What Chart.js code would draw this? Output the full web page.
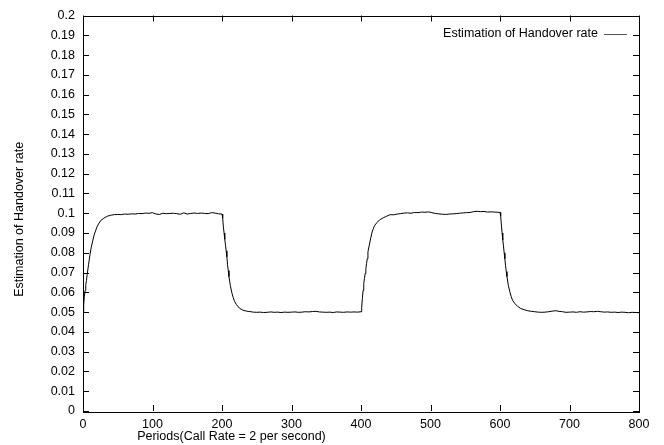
<!DOCTYPE html>
<html>
<head>
<meta charset="utf-8">
<script src="https://cdn.jsdelivr.net/npm/chart.js@4/dist/chart.umd.min.js"></script>
<style>
  html, body { margin: 0; padding: 0; background: #fff; }
  #wrap { width: 664px; height: 445px; }
</style>
</head>
<body>
<div id="wrap"><canvas id="c" width="664" height="445"></canvas></div>
<script>
// Handover-rate estimate per period (call rate = 2 per second)
const periods = [
  0, 1, 2, 3, 4, 5, 6, 8, 10, 12, 14, 16, 18, 20, 23, 26, 30, 35, 40, 45,
  50, 55, 60, 65, 70, 75, 80, 85, 90, 95, 100, 105, 110, 115, 120, 125, 130, 135, 140, 145,
  150, 155, 160, 165, 170, 175, 180, 185, 190, 195, 200,
  201, 202, 203, 204, 205, 206, 207, 208, 209, 210, 212, 214, 216, 218, 221, 225, 230, 235, 240,
  245, 250, 255, 260, 265, 270, 275, 280, 285, 290, 295, 300, 305, 310, 315, 320, 325, 330, 335, 340,
  345, 350, 355, 360, 365, 370, 375, 380, 385, 390, 395, 400,
  401, 402, 403, 404, 405, 406, 407, 408, 409, 410, 412, 414, 416, 418, 420, 423, 427, 432, 437, 442,
  447, 452, 457, 462, 467, 472, 477, 482, 487, 492, 497, 502, 507, 512, 517, 522, 527, 532, 537, 542,
  547, 552, 557, 562, 567, 572, 577, 582, 587, 592, 597, 600,
  601, 602, 603, 604, 605, 606, 607, 608, 609, 610, 612, 614, 616, 618, 621, 625, 630, 635, 640, 645,
  650, 655, 660, 665, 670, 675, 680, 685, 690, 695, 700, 705, 710, 715, 720, 725, 730, 735, 740, 745,
  750, 755, 760, 765, 770, 775, 780, 785, 790, 795, 800
];
const handoverRate = [
  0.0500, 0.0540, 0.0580, 0.0610, 0.0640, 0.0660, 0.0690, 0.0740, 0.0790, 0.0830, 0.0860, 0.0890, 0.0910, 0.0930, 0.0950, 0.0965, 0.0975, 0.0985, 0.0990, 0.0993,
  0.0994, 0.0993, 0.0996, 0.0995, 0.0997, 0.0996, 0.0999, 0.0998, 0.1001, 0.1000, 0.1003, 0.0996, 0.0994, 0.1000, 0.0998, 0.0999, 0.1000, 0.0998, 0.0995, 0.1002,
  0.0996, 0.0999, 0.1001, 0.0999, 0.1001, 0.0999, 0.0998, 0.1003, 0.1001, 0.0997, 0.0996,
  0.0975, 0.0930, 0.0900, 0.0868, 0.0840, 0.0810, 0.0780, 0.0740, 0.0710, 0.0680, 0.0635, 0.0600, 0.0575, 0.0555, 0.0537, 0.0520, 0.0510, 0.0505, 0.0503,
  0.0500, 0.0499, 0.0500, 0.0498, 0.0499, 0.0501, 0.0499, 0.0500, 0.0498, 0.0500, 0.0499, 0.0500, 0.0501, 0.0499, 0.0500, 0.0502, 0.0501, 0.0503, 0.0504, 0.0501,
  0.0500, 0.0499, 0.0500, 0.0498, 0.0501, 0.0500, 0.0499, 0.0501, 0.0500, 0.0501, 0.0500, 0.0502,
  0.0525, 0.0570, 0.0610, 0.0645, 0.0670, 0.0695, 0.0720, 0.0745, 0.0770, 0.0805, 0.0840, 0.0875, 0.0905, 0.0925, 0.0940, 0.0953, 0.0967, 0.0977, 0.0985, 0.0993,
  0.0992, 0.0996, 0.0998, 0.1001, 0.1002, 0.1000, 0.1004, 0.1003, 0.1006, 0.1005, 0.1007, 0.1003, 0.0999, 0.0997, 0.0995, 0.0994, 0.0996, 0.0997, 0.0998, 0.1000,
  0.1002, 0.1003, 0.1004, 0.1008, 0.1010, 0.1008, 0.1009, 0.1006, 0.1007, 0.1006, 0.1005, 0.1004,
  0.0985, 0.0940, 0.0900, 0.0865, 0.0835, 0.0800, 0.0770, 0.0735, 0.0705, 0.0680, 0.0635, 0.0605, 0.0580, 0.0560, 0.0545, 0.0530, 0.0518, 0.0512, 0.0507, 0.0504,
  0.0502, 0.0500, 0.0499, 0.0500, 0.0502, 0.0505, 0.0507, 0.0504, 0.0502, 0.0499, 0.0500, 0.0501, 0.0499, 0.0502, 0.0500, 0.0501, 0.0503, 0.0502, 0.0504, 0.0502,
  0.0500, 0.0501, 0.0499, 0.0500, 0.0498, 0.0500, 0.0499, 0.0497, 0.0499, 0.0498, 0.0497
];

const seriesLabel = 'Estimation of Handover rate';
const xTitle = 'Periods(Call Rate = 2 per second)';
const yTitle = 'Estimation of Handover rate';
const xTicks = [0, 100, 200, 300, 400, 500, 600, 700, 800];
const yTicks = [0, 0.01, 0.02, 0.03, 0.04, 0.05, 0.06, 0.07, 0.08, 0.09, 0.1,
                0.11, 0.12, 0.13, 0.14, 0.15, 0.16, 0.17, 0.18, 0.19, 0.2];

const FONT = 'Liberation Sans, Arial, Helvetica, sans-serif';
const FONT_SIZE = 12.5;

// Frame, inward tick marks on all four sides, axis titles and the key
const framePlugin = {
  id: 'frame',
  afterDatasetsDraw(chart) {
    const { ctx, chartArea: a, scales } = chart;
    const tick = 6;
    ctx.save();
    ctx.strokeStyle = '#000';
    ctx.lineWidth = 1;
    ctx.beginPath();
    for (const v of yTicks) {
      const y = Math.round(scales.y.getPixelForValue(v)) + 0.5;
      ctx.moveTo(a.left, y); ctx.lineTo(a.left + tick, y);
      ctx.moveTo(a.right, y); ctx.lineTo(a.right - tick, y);
    }
    for (const v of xTicks) {
      const x = Math.round(scales.x.getPixelForValue(v)) + 0.5;
      ctx.moveTo(x, a.bottom); ctx.lineTo(x, a.bottom - tick);
      ctx.moveTo(x, a.top); ctx.lineTo(x, a.top + tick);
    }
    ctx.stroke();
    ctx.strokeRect(Math.round(a.left) + 0.5, Math.round(a.top) + 0.5,
                   Math.round(a.right - a.left), Math.round(a.bottom - a.top));

    ctx.fillStyle = '#000';
    ctx.font = FONT_SIZE + 'px ' + FONT;
    ctx.textBaseline = 'middle';

    // key, top right inside the plot
    ctx.textAlign = 'right';
    const keyY = a.top + 18;
    ctx.fillText(chart.data.datasets[0].label, a.right - 41, keyY);
    ctx.strokeStyle = '#555';
    ctx.beginPath();
    ctx.moveTo(a.right - 35, Math.round(keyY) + 0.5);
    ctx.lineTo(a.right - 12, Math.round(keyY) + 0.5);
    ctx.stroke();

    // x title
    ctx.textAlign = 'center';
    ctx.fillText(xTitle, a.left + (a.right - a.left) * 0.267, 437);

    // y title, rotated
    ctx.translate(20, (a.top + a.bottom) / 2 + 6);
    ctx.rotate(-Math.PI / 2);
    ctx.fillText(yTitle, 0, 0);
    ctx.restore();
  }
};

new Chart(document.getElementById('c'), {
  type: 'scatter',
  data: {
    datasets: [{
      label: seriesLabel,
      data: periods.map((p, i) => ({ x: p, y: handoverRate[i] })),
      showLine: true,
      borderColor: '#000',
      borderWidth: 1,
      pointRadius: 0,
      tension: 0
    }]
  },
  options: {
    responsive: false,
    devicePixelRatio: 1,
    animation: false,
    layout: { padding: { top: 12, right: 25, left: 0, bottom: 0 } },
    plugins: { legend: { display: false }, tooltip: { enabled: false } },
    scales: {
      x: {
        type: 'linear', min: 0, max: 800,
        afterFit: s => { s.height = 34; },
        afterBuildTicks: s => { s.ticks = xTicks.map(v => ({ value: v })); },
        grid: { display: false, drawTicks: false },
        border: { display: false },
        ticks: { color: '#000', font: { family: FONT, size: FONT_SIZE }, padding: 6, maxRotation: 0,
                 callback: v => String(v) }
      },
      y: {
        type: 'linear', min: 0, max: 0.2,
        afterFit: s => { s.width = 83; },
        afterBuildTicks: s => { s.ticks = yTicks.map(v => ({ value: v })); },
        grid: { display: false, drawTicks: false },
        border: { display: false },
        ticks: { color: '#000', font: { family: FONT, size: FONT_SIZE }, padding: 8,
                 callback: v => String(parseFloat(Number(v).toFixed(2))) }
      }
    }
  },
  plugins: [framePlugin]
});
</script>
</body>
</html>
